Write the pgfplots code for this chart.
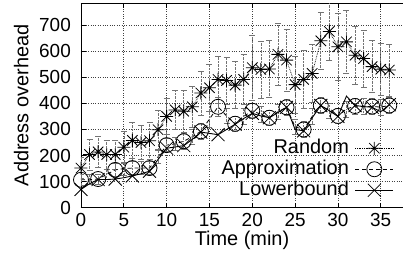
\documentclass[border=0pt]{standalone}
\usepackage{fontspec}
\setmainfont{Liberation Sans}
\usepackage{pgfplots}
\usepackage{pgfplotstable}
\pgfplotsset{compat=1.18}

\pgfdeclareplotmark{gpstar}{%
  \pgfpathmoveto{\pgfqpoint{-\pgfplotmarksize}{0pt}}\pgfpathlineto{\pgfqpoint{\pgfplotmarksize}{0pt}}%
  \pgfpathmoveto{\pgfqpoint{0pt}{-\pgfplotmarksize}}\pgfpathlineto{\pgfqpoint{0pt}{\pgfplotmarksize}}%
  \pgfpathmoveto{\pgfqpoint{-0.8\pgfplotmarksize}{-0.8\pgfplotmarksize}}\pgfpathlineto{\pgfqpoint{0.8\pgfplotmarksize}{0.8\pgfplotmarksize}}%
  \pgfpathmoveto{\pgfqpoint{-0.8\pgfplotmarksize}{0.8\pgfplotmarksize}}\pgfpathlineto{\pgfqpoint{0.8\pgfplotmarksize}{-0.8\pgfplotmarksize}}%
  \pgfusepathqstroke}
\pgfdeclareplotmark{gpx}{%
  \pgfpathmoveto{\pgfqpoint{-\pgfplotmarksize}{-\pgfplotmarksize}}\pgfpathlineto{\pgfqpoint{\pgfplotmarksize}{\pgfplotmarksize}}%
  \pgfpathmoveto{\pgfqpoint{-\pgfplotmarksize}{\pgfplotmarksize}}\pgfpathlineto{\pgfqpoint{\pgfplotmarksize}{-\pgfplotmarksize}}%
  \pgfusepathqstroke}

\pgfplotstableread{
x y e
0 152 40
1 204 60
2 214 60
3 204 55
4 204 55
5 232 60
6 258 70
7 250 65
8 257 70
9 299 75
10 350 70
11 375 75
12 370 80
13 387 80
14 440 85
15 460 90
16 492 90
17 488 90
18 470 90
19 492 95
20 537 125
21 530 110
22 532 110
23 588 120
24 566 120
25 472 110
26 492 110
27 515 110
28 640 110
29 676 110
30 617 130
31 636 120
32 585 110
33 572 110
34 541 100
35 531 100
36 528 100
}\randomdata

\pgfplotstableread{
x y e
0 107 20
1 108 20
2 110 20
3 128 20
4 145 25
5 150 25
6 152 25
7 152 25
8 152 25
9 195 25
10 240 25
11 245 25
12 255 30
13 272 30
14 293 30
15 340 30
16 387 35
17 352 30
18 322 30
19 350 30
20 372 30
21 358 30
22 345 30
23 368 30
24 385 30
25 310 30
26 300 30
27 350 30
28 392 30
29 372 30
30 352 30
31 378 30
32 390 30
33 388 30
34 388 30
35 386 30
36 392 30
}\approxdata

\pgfplotstableread{
x y
0 70
1 92
2 108
3 108
4 110
5 115
6 122
7 130
8 140
9 185
10 228
11 233
12 238
13 262
14 290
15 285
16 280
17 300
18 320
19 342
20 362
21 352
22 345
23 365
24 385
25 300
26 295
27 345
28 392
29 372
30 350
31 428
32 392
33 388
34 385
35 368
36 395
}\lowerdata

\begin{document}
\begin{tikzpicture}
\begin{axis}[
  scale only axis,
  width=322bp, height=204.7bp,
  xmin=0, xmax=37.6, ymin=0, ymax=785,
  axis x line*=box, axis y line*=left,
  y axis line style={-},
  axis line style={black, line width=0.9bp},
  xtick={0,5,...,35}, ytick={0,100,...,700},
  tick align=inside, major tick length=5bp,
  tick style={black, line width=0.8bp},
  grid=major,
  major grid style={dotted, black!75, line width=0.7bp},
  /pgf/number format/assume math mode=true,
  tick label style={font=\fontsize{19}{19}\selectfont},
  xticklabel style={inner sep=0pt, yshift=-5.3bp},
  yticklabel style={inner sep=0pt, xshift=-10bp},
  label style={font=\fontsize{20}{20}\selectfont},
  xlabel={Time (min)},
  ylabel={Address overhead},
  xlabel style={at={(axis description cs:0.5,0)}, anchor=base, yshift=-38bp, inner sep=0pt},
  ylabel style={at={(axis description cs:-0.1637,0.5)}, anchor=base, inner sep=0pt},
  clip mode=individual,
  legend cell align=right,
  legend plot pos=right,
  legend image code/.code={\draw[mark repeat=2,mark phase=2,#1] plot coordinates {(0bp,0bp) (19bp,0bp) (38bp,0bp)};},
  legend style={draw=none, fill=none, at={(axis description cs:0.972,0.033)}, anchor=south east,
    font=\fontsize{20}{20}\selectfont, row sep=0pt, column sep=5bp, inner sep=0pt,
    nodes={inner sep=1bp, text height=14.5bp, text depth=4.5bp}},
]
\addplot[black, densely dotted, line width=0.7bp, mark=gpstar, mark size=6.5bp,
  mark options={solid, line width=0.8bp},
  error bars/.cd, y dir=both, y explicit,
  error bar style={densely dotted, black!55, line width=0.6bp},
  error mark options={rotate=90, mark size=3bp, black!55, line width=0.6bp}]
  table[x=x, y=y, y error=e] {\randomdata};
\addlegendentry{Random}
\addplot[black, dash pattern=on 4bp off 3bp, line width=0.8bp, mark=o, mark size=7.5bp, mark repeat=2,
  mark options={solid, line width=0.8bp},
  error bars/.cd, y dir=both, y explicit,
  error bar style={densely dotted, black!55, line width=0.6bp},
  error mark options={rotate=90, mark size=3bp, black!55, line width=0.6bp}]
  table[x=x, y=y, y error=e] {\approxdata};
\addlegendentry{Approximation}
\addplot[black, solid, line width=0.9bp, mark=gpx, mark size=6.5bp, mark repeat=2,
  mark options={solid, line width=0.8bp}]
  table[x=x, y=y] {\lowerdata};
\addlegendentry{Lowerbound}
\end{axis}
\pgfresetboundingbox
\path ([shift={(-81bp,-44.3bp)}]current axis.south west) rectangle ([shift={(0bp,3bp)}]current axis.north east);
\end{tikzpicture}
\end{document}
